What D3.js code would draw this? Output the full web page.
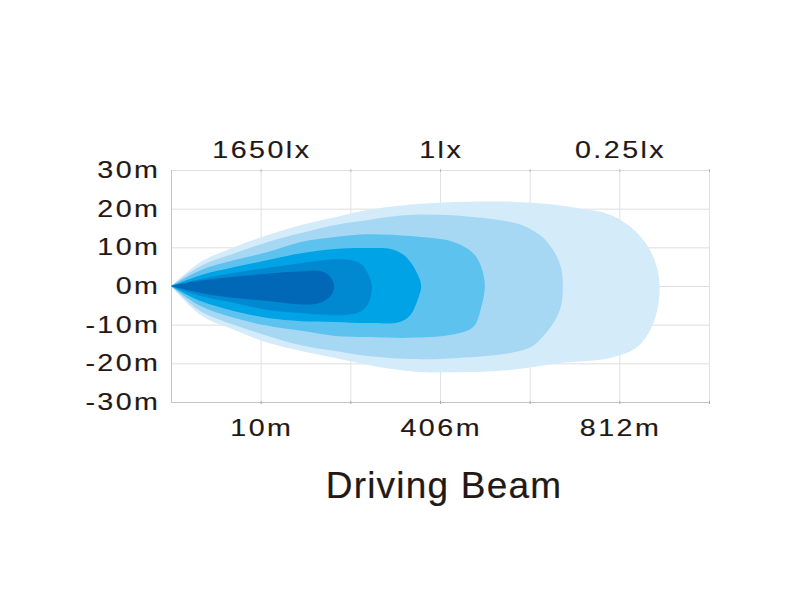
<!DOCTYPE html>
<html>
<head>
<meta charset="utf-8">
<script src="https://cdn.jsdelivr.net/npm/d3@7"></script>
<style>
  html, body { margin: 0; padding: 0; background: #ffffff; }
  svg { display: block; }
</style>
</head>
<body>
<svg id="chart" width="800" height="600"></svg>
<script>
// ---- data ----
const yTickValues = [30, 20, 10, 0, -10, -20, -30];
const xGridValues = [0, 1, 2, 3, 4, 5, 6];
const distancePositions = [1, 3, 5];
const distanceLabels = ["10m", "406m", "812m"];
const luxLabels = ["1650lx", "1lx", "0.25lx"];
const chartTitle = "Driving Beam";

// beam iso-lux contours: [grid position, metres]; outermost first
const layer1Top = [[0,0],[0.33,6.2],[0.71,10.1],[1.08,13.2],[1.45,15.8],[1.83,17.8],[2.2,19.7],[2.75,21.2],[3.3,21.8],[3.8,21.8],[4.2,21.2],[4.53,20.2],[4.9,18.4],[5.2,13.7],[5.38,7.5],[5.45,0]];
const layer1Bottom = [[5.38,-9.6],[5.2,-15.8],[4.9,-18.6],[4.34,-19.9],[3.78,-21.7],[3.2,-22.3],[2.7,-22.1],[2.2,-20.4],[1.83,-18.6],[1.45,-16.8],[1.08,-14.7],[0.71,-11.4],[0.33,-7.5],[0,0]];

const layer2Top = [[0,0],[0.33,5.2],[0.71,8.5],[1.08,11.4],[1.45,13.7],[1.83,15.8],[2.2,17.1],[2.7,18.4],[3.3,18.0],[3.78,16.6],[3.97,15.2],[4.15,12.5],[4.27,9.0],[4.35,4.7],[4.37,0]];
const layer2Bottom = [[4.35,-5.2],[4.27,-9.4],[4.15,-13.0],[4.02,-15.7],[3.78,-17.3],[3.2,-18.6],[2.7,-18.9],[2.2,-18.1],[1.83,-16.8],[1.45,-15.3],[1.08,-12.9],[0.71,-10.1],[0.33,-6.5],[0,0]];

const layer3Top = [[0,0],[0.33,4.1],[0.71,6.7],[1.08,8.8],[1.45,11.4],[1.83,12.7],[2.2,13.4],[2.67,12.9],[3.15,11.4],[3.37,8.5],[3.46,4.9],[3.5,0]];
const layer3Bottom = [[3.46,-5.4],[3.37,-10.6],[3.11,-12.7],[2.67,-13.4],[2.2,-13.2],[1.83,-12.9],[1.45,-11.6],[1.08,-10.3],[0.71,-8.3],[0.33,-5.2],[0,0]];

const layer4Top = [[0,0],[0.33,2.8],[0.71,4.9],[1.08,6.7],[1.45,8.5],[1.83,9.6],[2.2,9.8],[2.45,9.6],[2.58,8.3],[2.67,6.2],[2.76,2.5],[2.79,0]];
const layer4Bottom = [[2.76,-3.0],[2.67,-7.5],[2.55,-9.3],[2.2,-9.6],[1.83,-9.3],[1.45,-9.1],[1.08,-8.3],[0.71,-6.5],[0.33,-3.9],[0,0]];

const layer5Top = [[0,0],[0.33,1.8],[0.71,3.4],[1.08,4.7],[1.45,5.9],[1.83,6.9],[2.0,6.7],[2.12,5.7],[2.2,3.0],[2.24,0]];
const layer5Bottom = [[2.2,-4.5],[2.12,-6.5],[1.95,-7.5],[1.6,-7.3],[1.45,-7.0],[1.08,-6.2],[0.71,-4.4],[0.33,-2.6],[0,0]];

const layer6Top = [[0,0],[0.33,1.4],[0.71,2.4],[1.08,3.2],[1.45,3.8],[1.66,3.9],[1.77,2.6],[1.82,0]];
const layer6Bottom = [[1.78,-2.6],[1.66,-4.4],[1.45,-4.8],[1.08,-3.9],[0.71,-3.1],[0.33,-1.8],[0,0]];

const layerColors = ["#d4ebfa", "#a6d8f4", "#5ec2ef", "#00a3e6", "#0089d1", "#0068b6"];

// ---- drawing ----
const svg = d3.select("#chart");
const plotLeft = 171, plotRight = 709, plotTop = 170, plotBottom = 402;
const x = d3.scaleLinear().domain([0, 6]).range([plotLeft, plotRight]);
const y = d3.scaleLinear().domain([-30, 30]).range([plotBottom, plotTop]);
const textColor = "#231816";

// grid
const grid = svg.append("g");
grid.selectAll("line.h").data(yTickValues).join("line")
  .attr("x1", x(0)).attr("x2", x(6))
  .attr("y1", d => y(d) + 0.5).attr("y2", d => y(d) + 0.5)
  .attr("stroke", d => (d === -30 ? "#c4c4c4" : "#dedede")).attr("stroke-width", 1);
grid.selectAll("line.v").data(xGridValues).join("line")
  .attr("x1", d => x(d) + 0.5).attr("x2", d => x(d) + 0.5)
  .attr("y1", y(30)).attr("y2", y(-30))
  .attr("stroke", d => (d === 0 ? "#c4c4c4" : "#e2e2e2")).attr("stroke-width", 1);
grid.selectAll("line.tb").data(xGridValues.slice(1)).join("line")
  .attr("x1", d => x(d) + 0.5).attr("x2", d => x(d) + 0.5)
  .attr("y1", y(-30) - 1).attr("y2", y(-30) + 2)
  .attr("stroke", "#aaaaaa");
grid.selectAll("line.tt").data(xGridValues.slice(1)).join("line")
  .attr("x1", d => x(d) + 0.5).attr("x2", d => x(d) + 0.5)
  .attr("y1", y(30) - 1).attr("y2", y(30) + 2)
  .attr("stroke", "#bbbbbb");

// beam layers
const layers = [
  layer1Top.concat(layer1Bottom),
  layer2Top.concat(layer2Bottom),
  layer3Top.concat(layer3Bottom),
  layer4Top.concat(layer4Bottom),
  layer5Top.concat(layer5Bottom),
  layer6Top.concat(layer6Bottom)
];
const line = d3.line()
  .x(d => x(d[0]))
  .y(d => y(d[1]))
  .curve(d3.curveCatmullRom.alpha(0.5));
svg.append("g").selectAll("path").data(layers).join("path")
  .attr("d", d => line(d) + "Z")
  .attr("fill", (d, i) => layerColors[i])
  .attr("stroke", "none");

// labels: wide sans, slightly stretched horizontally
const labelFont = "'Liberation Sans', Arial, sans-serif";
const stretch = 1.22;
const ls = 2;
function label(g, px, py, anchor, txt) {
  const shift = anchor === "end" ? ls * stretch : (anchor === "middle" ? ls * stretch / 2 : 0);
  g.append("text")
    .attr("transform", `translate(${px + shift},${py}) scale(${stretch},1)`)
    .attr("text-anchor", anchor)
    .attr("font-family", labelFont)
    .attr("font-size", 23.5)
    .attr("letter-spacing", ls)
    .attr("fill", textColor)
    .attr("stroke", textColor)
    .attr("stroke-width", 0.15)
    .text(txt);
}
const yLab = svg.append("g");
yTickValues.forEach(d => label(yLab, 158, y(d) + 8, "end", d + "m"));
const bLab = svg.append("g");
distancePositions.forEach((d, i) => label(bLab, x(d), 436, "middle", distanceLabels[i]));
const tLab = svg.append("g");
distancePositions.forEach((d, i) => label(tLab, x(d), 158, "middle", luxLabels[i]));

// title
svg.append("text")
  .attr("x", 444)
  .attr("y", 498)
  .attr("text-anchor", "middle")
  .attr("font-family", "'Liberation Sans', Arial, sans-serif")
  .attr("font-size", 37)
  .attr("letter-spacing", 1.2)
  .attr("fill", textColor)
  .attr("stroke", textColor)
  .attr("stroke-width", 0.2)
  .text(chartTitle);
</script>
</body>
</html>
